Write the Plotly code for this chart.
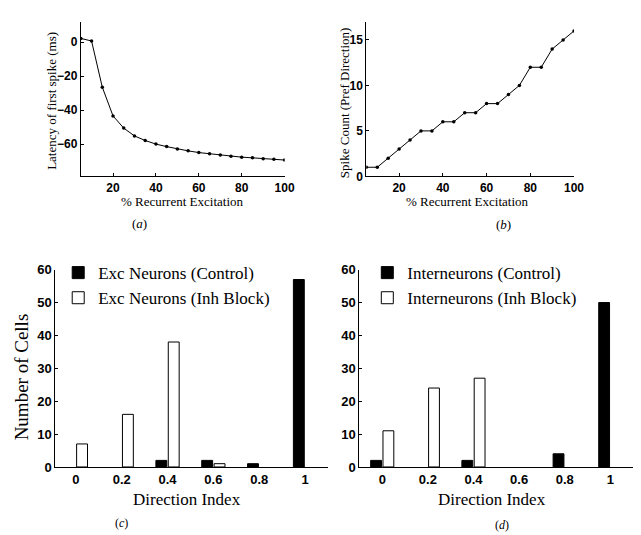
import plotly.graph_objects as go

W, H = 641, 535

# ---------------- data ----------------
recurrent_pct = [5, 10, 15, 20, 25, 30, 35, 40, 45, 50, 55, 60, 65, 70, 75, 80, 85, 90, 95, 100]
latency_ms = [2.2, 0.7, -26.5, -43.4, -50.6, -55.2, -57.9, -60.0, -61.5, -62.9,
              -64.0, -65.0, -65.7, -66.5, -67.1, -67.7, -68.1, -68.6, -69.0, -69.4]
spike_count = [1, 1, 2, 3, 4, 5, 5, 6, 6, 7, 7, 8, 8, 9, 10, 12, 12, 14, 15, 16]

direction_index = [0, 0.2, 0.4, 0.6, 0.8, 1.0]
exc_control = [0, 0, 2, 2, 1, 57]
exc_inh_block = [7, 16, 38, 1, 0, 0]
int_control = [2, 0, 2, 0, 4, 50]
int_inh_block = [11, 24, 27, 0, 0, 0]

top_xticks = [20, 40, 60, 80, 100]
lat_yticks = [0, -20, -40, -60]
spk_yticks = [0, 5, 10, 15]
di_ticks = [0, 0.2, 0.4, 0.6, 0.8, 1]
di_ticklabels = ["0", "0.2", "0.4", "0.6", "0.8", "1"]
cell_yticks = [0, 10, 20, 30, 40, 50, 60]


def px_x(p):
    return p / W


def px_y(p):
    return 1 - p / H


SERIF = "Liberation Serif, Times New Roman, serif"
SANS = "Liberation Sans, Arial, sans-serif"
tick_top = dict(family=SANS, size=12, color="black", weight="bold")
tick_bot = dict(family=SANS, size=13, color="black", weight="bold")


def nonempty(values):
    # empty bins draw nothing (no outline for zero-height bars)
    return [v if v > 0 else None for v in values]


fig = go.Figure()

# (a) latency
fig.add_trace(go.Scatter(x=recurrent_pct, y=latency_ms, mode="lines+markers",
                         line=dict(color="black", width=1),
                         marker=dict(color="black", size=3.5),
                         xaxis="x", yaxis="y", showlegend=False))
# (b) spike count
fig.add_trace(go.Scatter(x=recurrent_pct, y=spike_count, mode="lines+markers",
                         line=dict(color="black", width=1),
                         marker=dict(color="black", size=3.5),
                         xaxis="x2", yaxis="y2", showlegend=False))

# (c) excitatory neurons
fig.add_trace(go.Bar(x=direction_index, y=nonempty(exc_control), name="Exc Neurons (Control)",
                     marker=dict(color="black", line=dict(color="black", width=1)),
                     xaxis="x3", yaxis="y3", offsetgroup="c1", legend="legend"))
fig.add_trace(go.Bar(x=direction_index, y=nonempty(exc_inh_block), name="Exc Neurons (Inh Block)",
                     marker=dict(color="white", line=dict(color="black", width=1)),
                     xaxis="x3", yaxis="y3", offsetgroup="c2", legend="legend"))
# (d) interneurons
fig.add_trace(go.Bar(x=direction_index, y=nonempty(int_control), name="Interneurons (Control)",
                     marker=dict(color="black", line=dict(color="black", width=1)),
                     xaxis="x4", yaxis="y4", offsetgroup="d1", legend="legend2"))
fig.add_trace(go.Bar(x=direction_index, y=nonempty(int_inh_block), name="Interneurons (Inh Block)",
                     marker=dict(color="white", line=dict(color="black", width=1)),
                     xaxis="x4", yaxis="y4", offsetgroup="d2", legend="legend2"))

axis_common = dict(showgrid=False, zeroline=False, showline=True, linecolor="black",
                   linewidth=1, ticks="inside", ticklen=3, tickcolor="black", mirror=False)
bar_x_axis = dict(showgrid=False, zeroline=False, showline=True, linecolor="black",
                  linewidth=1, ticks="", mirror=False)

top_y = [px_y(166), px_y(7)]
bot_y = [px_y(465), px_y(262)]

legend_font = dict(family=SERIF, size=17, color="black")

fig.update_layout(
    width=W, height=H,
    margin=dict(l=0, r=0, t=0, b=0),
    paper_bgcolor="white", plot_bgcolor="white",
    barmode="group", bargap=0.46, bargroupgap=0.12,
    xaxis=dict(domain=[px_x(74), px_x(281)], range=[5, 100], tickvals=top_xticks,
               tickfont=tick_top, anchor="y", **axis_common),
    yaxis=dict(domain=top_y, range=[-79, 12], tickvals=lat_yticks,
               tickfont=tick_top, anchor="x", **axis_common),
    xaxis2=dict(domain=[px_x(364), px_x(575)], range=[5, 100], tickvals=top_xticks,
                tickfont=tick_top, anchor="y2", **axis_common),
    yaxis2=dict(domain=top_y, range=[0, 17], tickvals=spk_yticks,
                tickfont=tick_top, anchor="x2", **axis_common),
    xaxis3=dict(domain=[px_x(48), px_x(325)], range=[-0.09, 1.1], tickvals=di_ticks,
                ticktext=di_ticklabels, tickfont=tick_bot, anchor="y3", **bar_x_axis),
    yaxis3=dict(domain=bot_y, range=[0, 60], tickvals=cell_yticks,
                tickfont=tick_bot, anchor="x3", **axis_common),
    xaxis4=dict(domain=[px_x(357), px_x(635)], range=[-0.1, 1.1], tickvals=di_ticks,
                ticktext=di_ticklabels, tickfont=tick_bot, anchor="y4", **bar_x_axis),
    yaxis4=dict(domain=bot_y, range=[0, 60], tickvals=cell_yticks,
                tickfont=tick_bot, anchor="x4", **axis_common),
    legend=dict(x=px_x(51), y=px_y(247), xanchor="left", yanchor="top",
                bgcolor="rgba(0,0,0,0)", font=legend_font,
                traceorder="normal", tracegroupgap=0),
    legend2=dict(x=px_x(365), y=px_y(247), xanchor="left", yanchor="top",
                 bgcolor="rgba(0,0,0,0)", font=legend_font,
                 traceorder="normal", tracegroupgap=0),
)


def ann(text, x, y, size, angle=0):
    fig.add_annotation(text=text, x=px_x(x), y=px_y(y), xref="paper", yref="paper",
                       showarrow=False, textangle=angle, xanchor="center", yanchor="middle",
                       font=dict(family=SERIF, size=size, color="black"))


# axis titles
ann("% Recurrent Excitation", 177, 192, 13)
ann("% Recurrent Excitation", 467, 192, 13)
ann("Latency of first spike (ms)", 44, 88, 13, angle=-90)
ann("Spike Count (Pref Direction)", 342, 90, 13, angle=-90)
ann("Direction Index", 182, 498, 17)
ann("Direction Index", 492, 498, 17)
ann("Number of Cells", 14, 372, 19, angle=-90)

# panel captions
ann("(<i>a</i>)", 134, 215, 13)
ann("(<i>b</i>)", 503, 216, 13)
ann("(<i>c</i>)", 115, 523, 12)
ann("(<i>d</i>)", 502, 525, 12)

fig.write_html("out.html")
